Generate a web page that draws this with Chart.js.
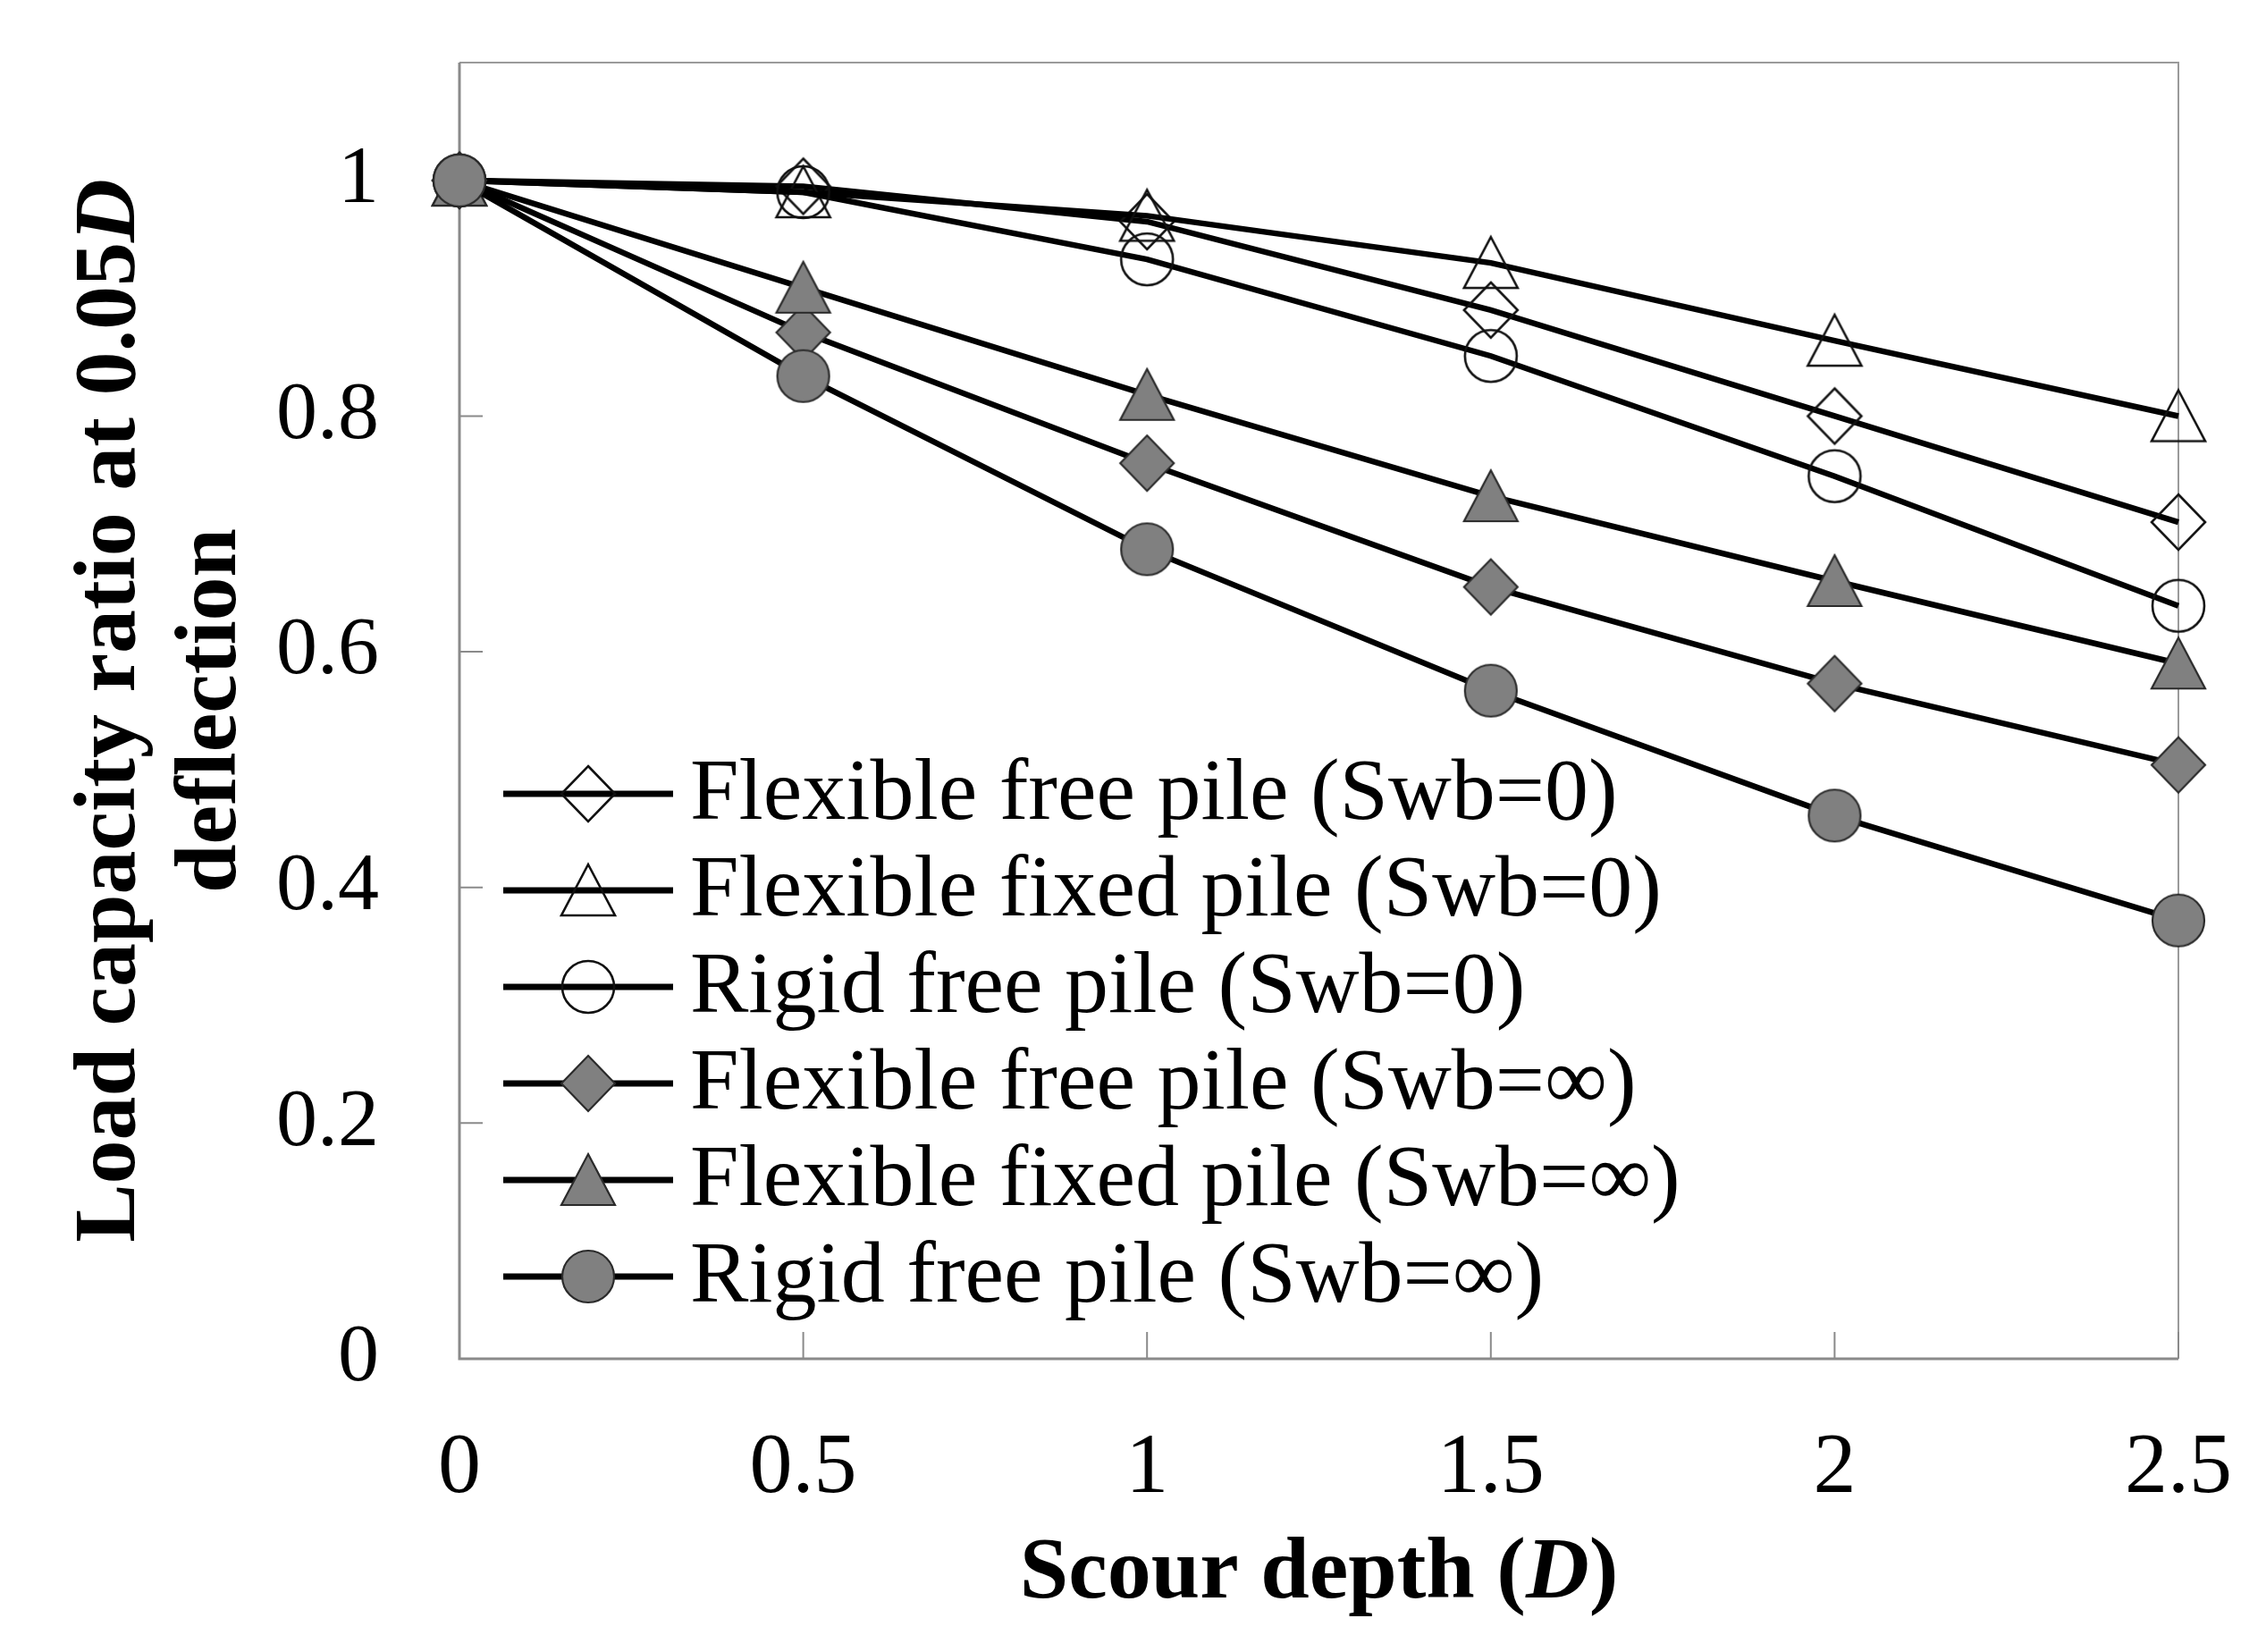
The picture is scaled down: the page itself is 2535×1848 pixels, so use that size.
<!DOCTYPE html>
<html><head><meta charset="utf-8">
<script src="https://cdn.jsdelivr.net/npm/chart.js@4/dist/chart.umd.min.js"></script>
<style>html,body{margin:0;padding:0;background:#fff;overflow:hidden}canvas{display:block}</style>
</head><body>
<canvas id="c" width="2535" height="1848"></canvas>
<script>
// ---- data ----
const scourDepth       = [0, 0.5, 1, 1.5, 2, 2.5];
const flexibleFree0    = [1, 0.995, 0.965, 0.89, 0.80, 0.71];
const flexibleFixed0   = [1, 0.99, 0.97, 0.93, 0.864, 0.80];
const rigidFree0       = [1, 0.99, 0.933, 0.851, 0.749, 0.639];
const flexibleFreeInf  = [1, 0.871, 0.760, 0.655, 0.573, 0.504];
const flexibleFixedInf = [1, 0.909, 0.818, 0.732, 0.66, 0.590];
const rigidFreeInf     = [1, 0.834, 0.687, 0.567, 0.461, 0.372];
const seriesLabels = [
  'Flexible free pile (Swb=0)',
  'Flexible fixed pile (Swb=0)',
  'Rigid free pile (Swb=0)',
  'Flexible free pile (Swb=\u221E)',
  'Flexible fixed pile (Swb=\u221E)',
  'Rigid free pile (Swb=\u221E)'
];
const xTickValues = [0, 0.5, 1, 1.5, 2, 2.5];
const yTickValues = [0, 0.2, 0.4, 0.6, 0.8, 1];
const xTitleParts = [['Scour depth (', false], ['D', true], [')', false]];
const yTitleLine1 = [['Load capacity ratio at 0.05', false], ['D', true]];
const yTitleLine2 = [['deflection', false]];

// ---- styling ----
const FONT = '"Liberation Serif", "Times New Roman", serif';
const seriesValues = [flexibleFree0, flexibleFixed0, rigidFree0, flexibleFreeInf, flexibleFixedInf, rigidFreeInf];
const shapes = ['diamond', 'triangle', 'circle', 'diamond', 'triangle', 'circle'];
const filled = [false, false, false, true, true, true];

function makeMarker(shape, isFilled) {
  const s = 76, c = document.createElement('canvas');
  c.width = s; c.height = s;
  const g = c.getContext('2d');
  g.translate(s / 2, s / 2);
  g.beginPath();
  if (shape === 'circle') {
    g.arc(0, 0, 29, 0, Math.PI * 2);
  } else if (shape === 'triangle') {
    g.moveTo(0, -29); g.lineTo(30, 28); g.lineTo(-30, 28); g.closePath();
  } else {
    g.moveTo(0, -31); g.lineTo(30, 0); g.lineTo(0, 31); g.lineTo(-30, 0); g.closePath();
  }
  if (isFilled) {
    g.fillStyle = '#808080';
    g.fill();
  }
  g.lineWidth = isFilled ? 2.2 : 2.6;
  g.strokeStyle = isFilled ? '#2a2a2a' : '#111111';
  g.stroke();
  return c;
}
const markers = shapes.map((s, i) => makeMarker(s, filled[i]));

const datasets = seriesValues.map((vals, i) => ({
  label: seriesLabels[i],
  data: scourDepth.map((x, k) => ({x: x, y: vals[k]})),
  borderColor: '#000000',
  borderWidth: 6.5,
  pointStyle: markers[i],
  pointRadius: 30,
  pointHoverRadius: 30,
  fill: false,
  tension: 0,
  clip: false,
  order: seriesValues.length - 1 - i
}));

function drawRich(ctx, parts, size, cx, cy) {
  let total = 0;
  const fonts = parts.map(p => (p[1] ? 'italic bold ' : 'bold ') + size + 'px ' + FONT);
  parts.forEach((p, i) => { ctx.font = fonts[i]; total += ctx.measureText(p[0]).width; });
  let x = cx - total / 2;
  ctx.textBaseline = 'middle';
  ctx.textAlign = 'left';
  parts.forEach((p, i) => { ctx.font = fonts[i]; ctx.fillText(p[0], x, cy); x += ctx.measureText(p[0]).width; });
}

const framePlugin = {
  id: 'frame',
  beforeDatasetsDraw(chart) {
    const {ctx, chartArea: a, scales} = chart;
    ctx.save();
    ctx.strokeStyle = '#9a9a9a';
    ctx.lineWidth = 2;
    ctx.beginPath();
    ctx.moveTo(a.left, a.top); ctx.lineTo(a.right, a.top); ctx.lineTo(a.right, a.bottom);
    ctx.stroke();
    ctx.strokeStyle = '#8a8a8a';
    ctx.lineWidth = 3;
    ctx.beginPath();
    ctx.moveTo(a.left, a.top); ctx.lineTo(a.left, a.bottom); ctx.lineTo(a.right, a.bottom);
    ctx.stroke();
    ctx.lineWidth = 2;
    ctx.beginPath();
    xTickValues.forEach(v => {
      const px = scales.x.getPixelForValue(v);
      ctx.moveTo(px, a.bottom); ctx.lineTo(px, a.bottom - 30);
    });
    yTickValues.forEach(v => {
      const py = scales.y.getPixelForValue(v);
      ctx.moveTo(a.left, py); ctx.lineTo(a.left + 26, py);
    });
    ctx.stroke();
    ctx.restore();
  },
  afterDraw(chart) {
    const {ctx, chartArea: a} = chart;
    ctx.save();
    ctx.fillStyle = '#000';
    // axis titles
    drawRich(ctx, xTitleParts, 98, (a.left + a.right) / 2, 1762);
    const midY = (a.top + a.bottom) / 2;
    ctx.save(); ctx.translate(125, midY); ctx.rotate(-Math.PI / 2);
    drawRich(ctx, yTitleLine1, 98, 0, 0); ctx.restore();
    ctx.save(); ctx.translate(238, midY); ctx.rotate(-Math.PI / 2);
    drawRich(ctx, yTitleLine2, 98, 0, 0); ctx.restore();
    // legend inside plot area
    const rowTop = 888, rowStep = 108, lx0 = 563, lx1 = 753, mx = 658, tx = 772;
    chart.data.datasets.forEach((ds, i) => {
      const y = rowTop + i * rowStep;
      ctx.strokeStyle = ds.borderColor;
      ctx.lineWidth = 7;
      ctx.beginPath(); ctx.moveTo(lx0, y); ctx.lineTo(lx1, y); ctx.stroke();
      const m = ds.pointStyle;
      ctx.drawImage(m, mx - m.width / 2, y - m.height / 2);
      ctx.font = '98px ' + FONT;
      ctx.textAlign = 'left';
      ctx.textBaseline = 'middle';
      ctx.fillStyle = '#000';
      ctx.fillText(ds.label, tx, y + 2);
    });
    ctx.restore();
  }
};

new Chart(document.getElementById('c'), {
  type: 'line',
  data: {datasets: datasets},
  options: {
    responsive: false,
    animation: false,
    devicePixelRatio: 1,
    layout: {padding: {top: 70, right: 98, left: 0, bottom: 0}},
    plugins: {legend: {display: false}, tooltip: {enabled: false}, title: {display: false}},
    scales: {
      x: {
        type: 'linear', min: 0, max: 2.5,
        afterBuildTicks: s => { s.ticks = xTickValues.map(v => ({value: v})); },
        afterFit: s => { s.height = 328; s.paddingLeft = 0; s.paddingRight = 0; },
        grid: {display: false, drawTicks: false},
        border: {display: false},
        ticks: {
          font: {family: FONT, size: 96}, color: '#000', padding: 66,
          maxRotation: 0, autoSkip: false, callback: v => String(v)
        }
      },
      y: {
        type: 'linear', min: 0, max: 1.1,
        afterBuildTicks: s => { s.ticks = yTickValues.map(v => ({value: v})); },
        afterFit: s => { s.width = 514; s.paddingTop = 0; s.paddingBottom = 0; },
        grid: {display: false, drawTicks: false},
        border: {display: false},
        ticks: {
          font: {family: FONT, size: 92}, color: '#000', padding: 90,
          autoSkip: false, callback: v => String(Math.round(v * 10) / 10)
        }
      }
    }
  },
  plugins: [framePlugin]
});
</script>
</body></html>
